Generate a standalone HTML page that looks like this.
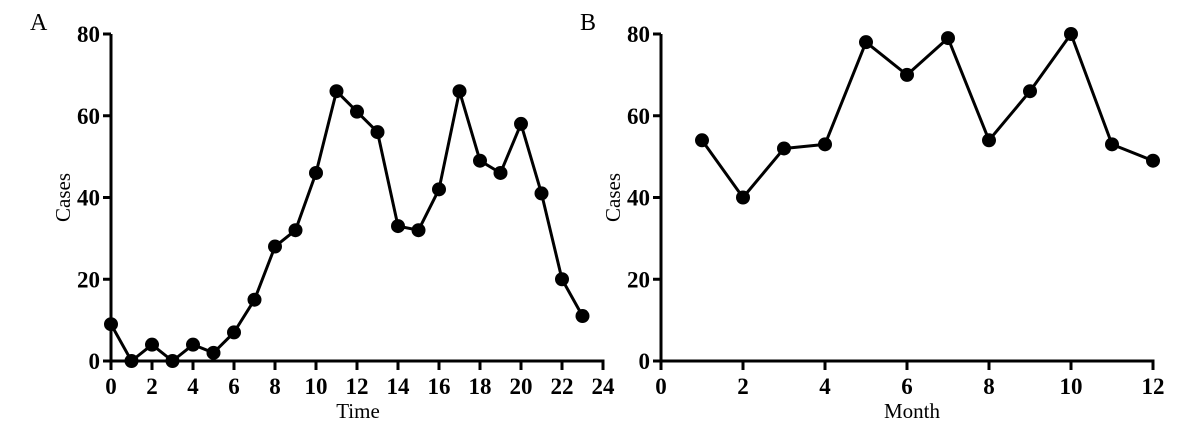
<!DOCTYPE html>
<html><head><meta charset="utf-8"><style>
body{margin:0;background:#fff}
svg{display:block;font-family:"Liberation Serif",serif}
.t{font-weight:bold;font-size:23px}
</style></head><body>
<svg id="c" width="1200" height="429"></svg>
<script>
const timeCats=[0,1,2,3,4,5,6,7,8,9,10,11,12,13,14,15,16,17,18,19,20,21,22,23];
const timeCases=[9,0,4,0,4,2,7,15,28,32,46,66,61,56,33,32,42,66,49,46,58,41,20,11];
const monthCats=[1,2,3,4,5,6,7,8,9,10,11,12];
const monthCases=[54,40,52,53,78,70,79,54,66,80,53,49];
const yTicks=[0,20,40,60,80];
const xTicksA=[0,2,4,6,8,10,12,14,16,18,20,22,24];
const xTicksB=[0,2,4,6,8,10,12];
const NS="http://www.w3.org/2000/svg";
const svg=document.getElementById('c');
function mk(t,a,p){const e=document.createElementNS(NS,t);for(const k in a)e.setAttribute(k,a[k]);(p||svg).appendChild(e);return e;}
function panel(letter,x0,x1,xmax,xt,cats,vals,xlabel,lx,pname){
  const g=mk('g',{});
  
  
  const yb=361,yt=34;
  const X=v=>x0+(x1-x0)*v/xmax, Y=v=>yb-(yb-yt)*v/80;
  const lt=mk('text',{x:letter=='A'?30:580,y:30,'font-size':24},g);lt.textContent=letter;
  
  
  const ya=mk('line',{x1:x0,y1:yt,x2:x0,y2:yb+1.5,stroke:'#000','stroke-width':3},g);
  
  
  const xa=mk('line',{x1:x0-1.5,y1:yb,x2:x1+1.5,y2:yb,stroke:'#000','stroke-width':3},g);
  
  
  yTicks.forEach(v=>{
    mk('line',{x1:x0-8,y1:Y(v),x2:x0,y2:Y(v),stroke:'#000','stroke-width':3},g);
    const t=mk('text',{x:x0-11,y:Y(v)+8,'text-anchor':'end',class:'t'},g);t.textContent=v;
    
    
  });
  xt.forEach(v=>{
    mk('line',{x1:X(v),y1:yb,x2:X(v),y2:yb+9,stroke:'#000','stroke-width':3},g);
    const t=mk('text',{x:X(v),y:yb+33,'text-anchor':'middle',class:'t'},g);t.textContent=v;
    
    
  });
  const yl=mk('text',{x:0,y:0,'font-size':21,'text-anchor':'middle',transform:`translate(${x0-41},${(yb+yt)/2}) rotate(-90)`},g);yl.textContent='Cases';
  
  
  const xl=mk('text',{x:lx,y:418,'font-size':21,'text-anchor':'middle'},g);xl.textContent=xlabel;
  
  
  const pts=cats.map((c,i)=>X(c)+','+Y(vals[i])).join(' ');
  const pl=mk('polyline',{points:pts,fill:'none',stroke:'#000','stroke-width':3,'stroke-linejoin':'round'},g);
  
  
  cats.forEach((c,i)=>{
    const p=mk('circle',{cx:X(c),cy:Y(vals[i]),r:7,fill:'#000'},g);
    
    
  });
}
panel('A',111,603,24,xTicksA,timeCats,timeCases,'Time',358,'panel-a-time');
panel('B',661,1153,12,xTicksB,monthCats,monthCases,'Month',912,'panel-b-month');
</script>
</body></html>
